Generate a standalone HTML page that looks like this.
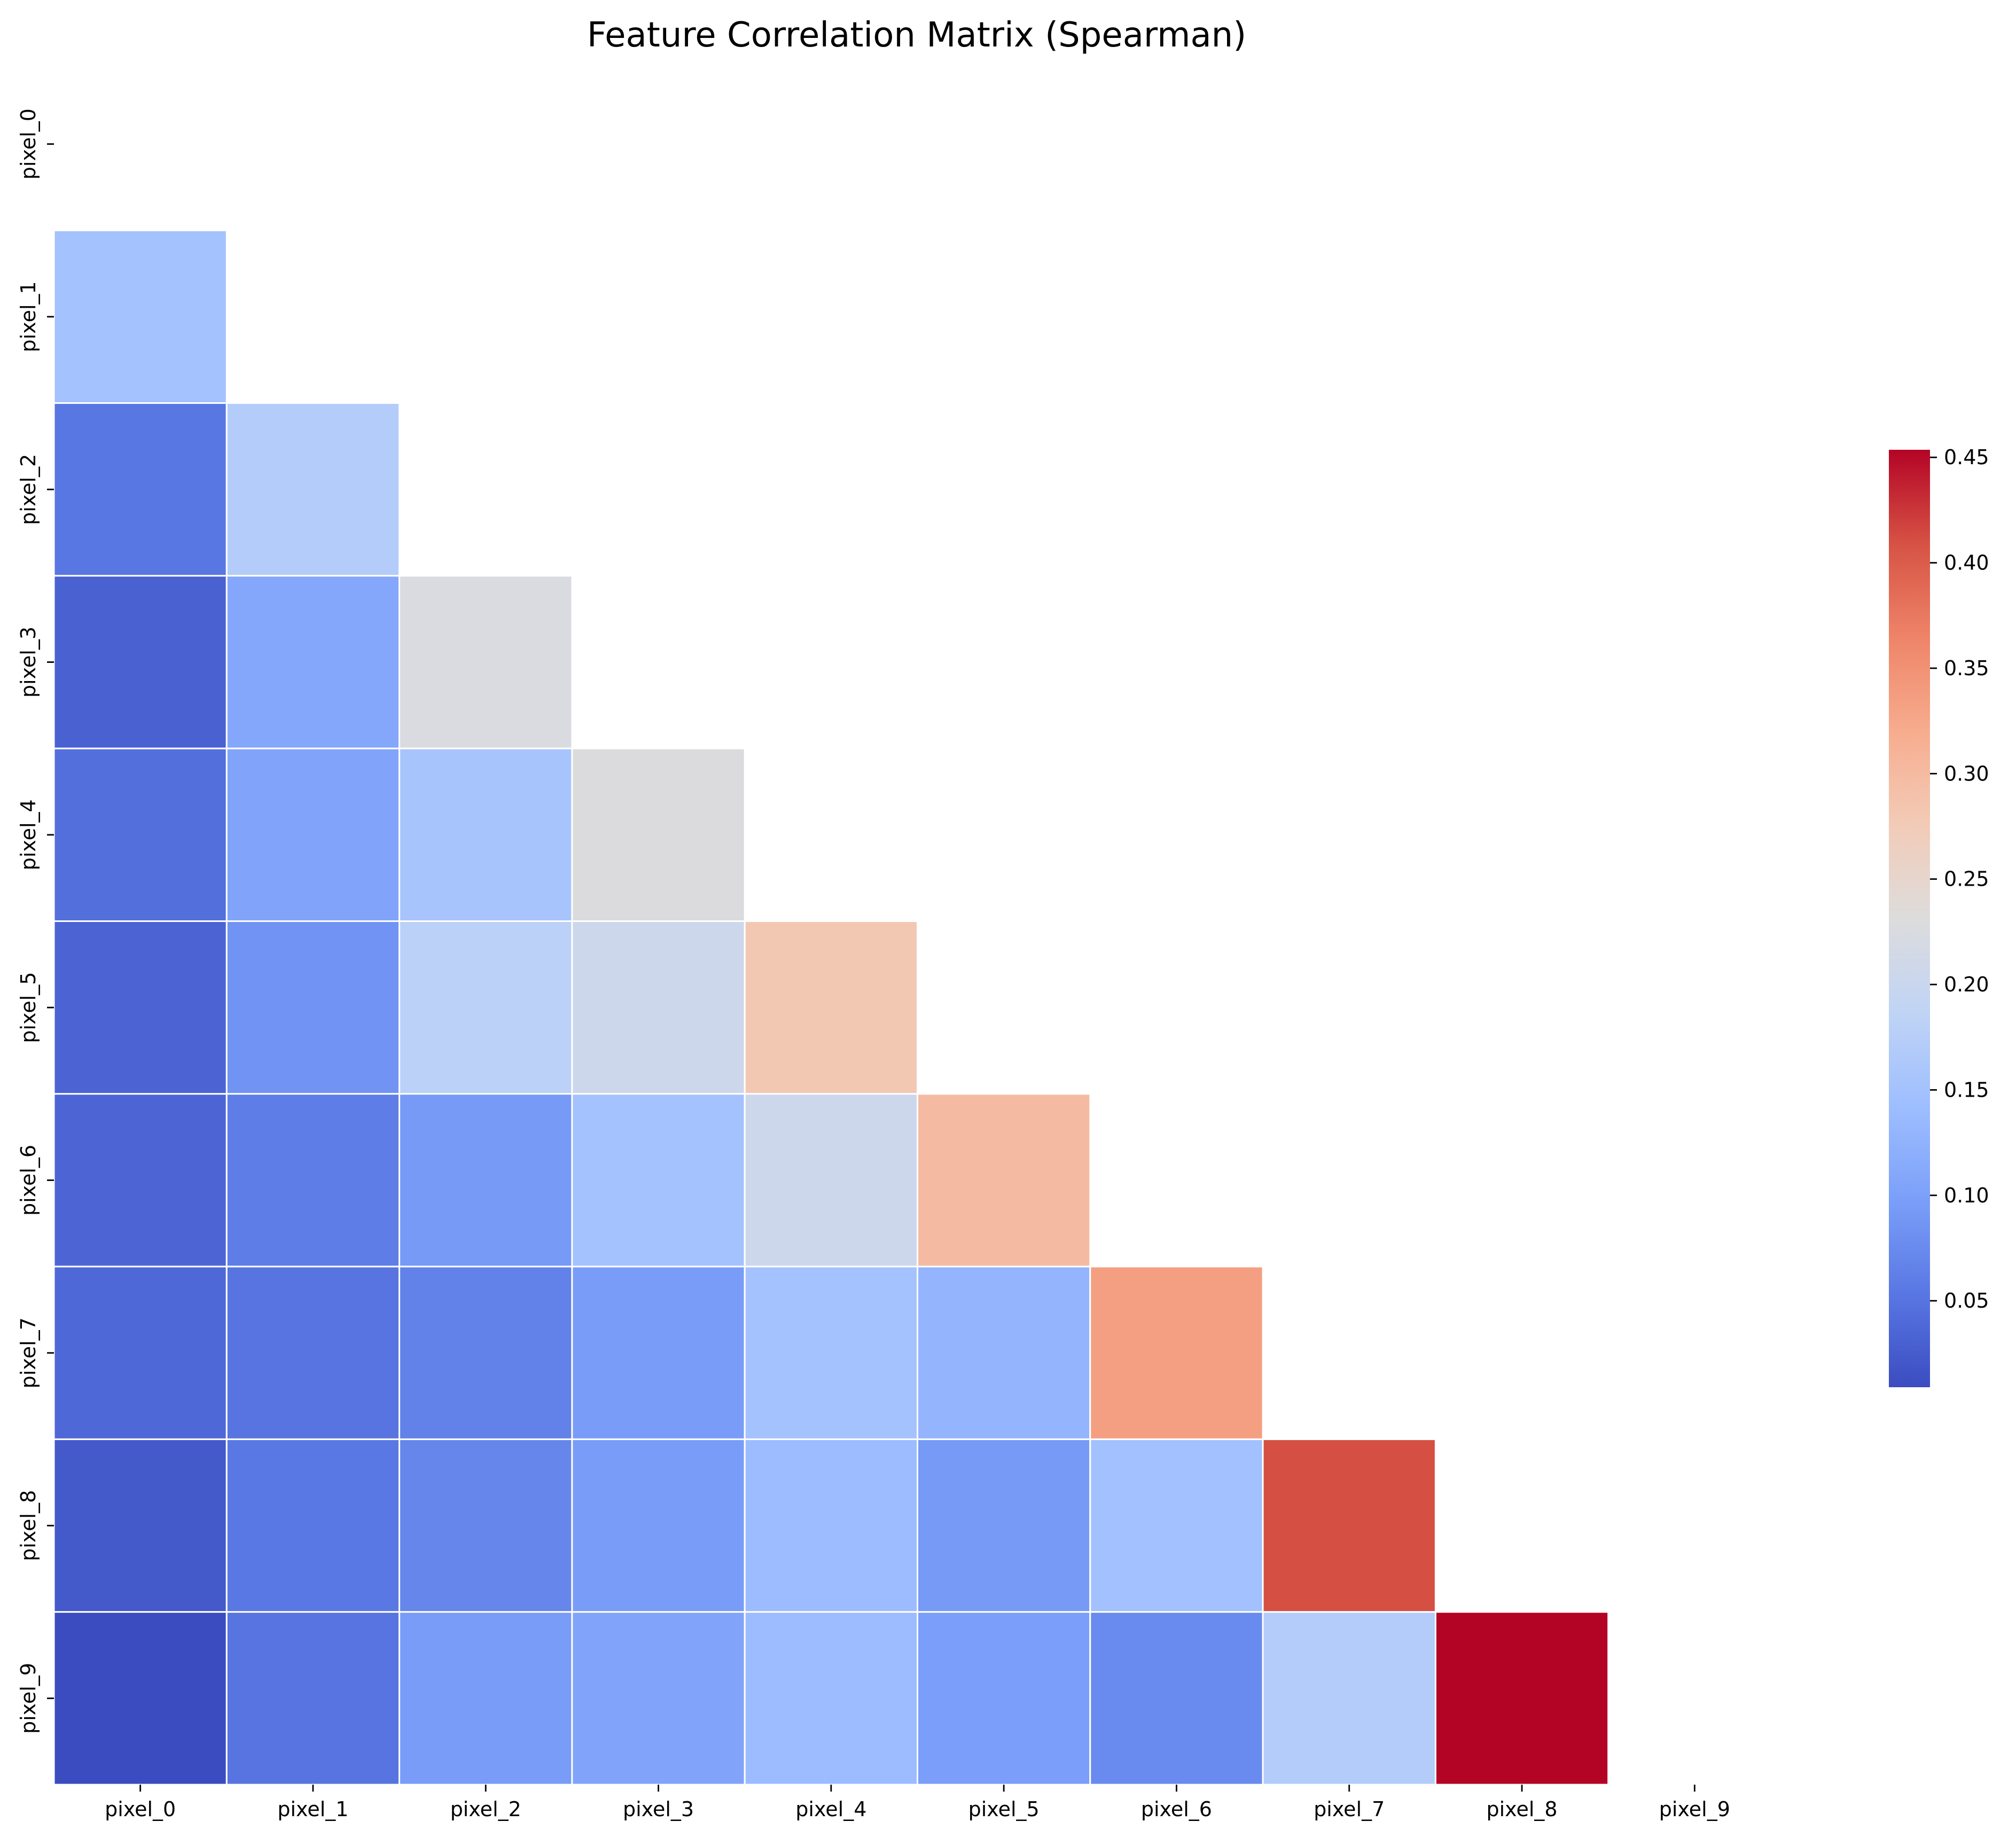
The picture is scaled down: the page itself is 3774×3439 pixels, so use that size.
<!DOCTYPE html>
<html><head><meta charset="utf-8"><style>
html,body{margin:0;padding:0;background:#fff;}
svg{display:block;}
text{font-family:"DejaVu Sans","Liberation Sans",sans-serif;fill:#000;}
</style></head><body>
<svg id="chart" width="3774" height="3439" viewBox="0 0 3774 3439" xmlns="http://www.w3.org/2000/svg">
<rect width="3774" height="3439" fill="#fff"/>
<text x="1716" y="87" font-size="64" text-anchor="middle">Feature Correlation Matrix (Spearman)</text>
<g id="cells"></g><g id="xticks"></g><g id="yticks"></g>
<defs><linearGradient id="cbgrad" x1="0" y1="1" x2="0" y2="0"></linearGradient></defs>
<rect id="cbar" fill="url(#cbgrad)"/>
<g id="cbticks"></g>
</svg>
<script>
const labels = ["pixel_0","pixel_1","pixel_2","pixel_3","pixel_4","pixel_5","pixel_6","pixel_7","pixel_8","pixel_9"];
const row1 = [0.150];
const row2 = [0.054,0.170];
const row3 = [0.031,0.110,0.225];
const row4 = [0.045,0.105,0.155,0.228];
const row5 = [0.033,0.085,0.180,0.205,0.280];
const row6 = [0.035,0.060,0.092,0.150,0.205,0.298];
const row7 = [0.038,0.050,0.065,0.095,0.150,0.130,0.335];
const row8 = [0.022,0.055,0.070,0.095,0.140,0.092,0.148,0.410];
const row9 = [0.009,0.050,0.095,0.105,0.140,0.097,0.075,0.170,0.454];
const rows = [[],row1,row2,row3,row4,row5,row6,row7,row8,row9];
const cbTicks = [0.05,0.10,0.15,0.20,0.25,0.30,0.35,0.40,0.45];
const vmin = 0.009, vmax = 0.4536;

const NS="http://www.w3.org/2000/svg";
const cmapStops=['#3b4cc0','#5977e3','#7b9ff9','#9ebeff','#c0d4f5','#dddcdc','#f2cbb7','#f7ac8e','#ee8468','#d65244','#b40426'];
function hex(h){return [1,3,5].map(i=>parseInt(h.substr(i,2),16));}
function cmap(t){t=Math.max(0,Math.min(1,t));const p=t*10;const i=Math.min(9,Math.floor(p));const f=p-i;const a=hex(cmapStops[i]),b=hex(cmapStops[i+1]);return 'rgb('+a.map((v,k)=>Math.round(v+(b[k]-v)*f)).join(',')+')';}
const X0=101, Y0=108, CS=323.3, FS=38, TL=13;
const xPos=i=>X0+i*CS, yPos=j=>Y0+j*CS;
function mk(tag,attrs,parent){const e=document.createElementNS(NS,tag);for(const k in attrs)e.setAttribute(k,attrs[k]);parent.appendChild(e);return e;}
const cells=document.getElementById('cells');
rows.forEach((r,j)=>r.forEach((v,i)=>{
  const e=mk('rect',{x:xPos(i),y:yPos(j),width:CS,height:CS,fill:cmap((v-vmin)/(vmax-vmin)),stroke:'#fff','stroke-width':3},cells);
  
  
}));
const xt=document.getElementById('xticks'), yt=document.getElementById('yticks');
const yBottom=yPos(10);
labels.forEach((l,i)=>{
  const cx=xPos(i)+CS/2;
  mk('line',{x1:cx,y1:yBottom,x2:cx,y2:yBottom+TL,stroke:'#000','stroke-width':2.8},xt);
  const t=mk('text',{x:cx,y:yBottom+TL+46,'font-size':FS,'text-anchor':'middle'},xt);t.textContent=l;
  
  
  const cy=yPos(i)+CS/2;
  mk('line',{x1:X0,y1:cy,x2:X0-TL,y2:cy,stroke:'#000','stroke-width':2.8},yt);
  const u=mk('text',{x:0,y:0,'font-size':FS,'text-anchor':'middle',transform:'translate(66,'+cy+') rotate(-90)'},yt);u.textContent=l;
  
  
});
const g=document.getElementById('cbgrad');
for(let k=0;k<=20;k++){mk('stop',{offset:(k/20),'stop-color':cmap(k/20)},g);}
const CBX=3536,CBW=77,CBT=842,CBB=2597;
const cb=document.getElementById('cbar');
cb.setAttribute('x',CBX);cb.setAttribute('y',CBT);cb.setAttribute('width',CBW);cb.setAttribute('height',CBB-CBT);
const cbY=v=>CBB-(v-vmin)/(vmax-vmin)*(CBB-CBT);
const cbt=document.getElementById('cbticks');
cbTicks.forEach(v=>{
  const y=cbY(v);
  mk('line',{x1:CBX+CBW,y1:y,x2:CBX+CBW+TL,y2:y,stroke:'#000','stroke-width':2.8},cbt);
  const t=mk('text',{x:CBX+CBW+26,y:y+13,'font-size':FS},cbt);t.textContent=v.toFixed(2);
  
  
});
</script>
</body></html>
